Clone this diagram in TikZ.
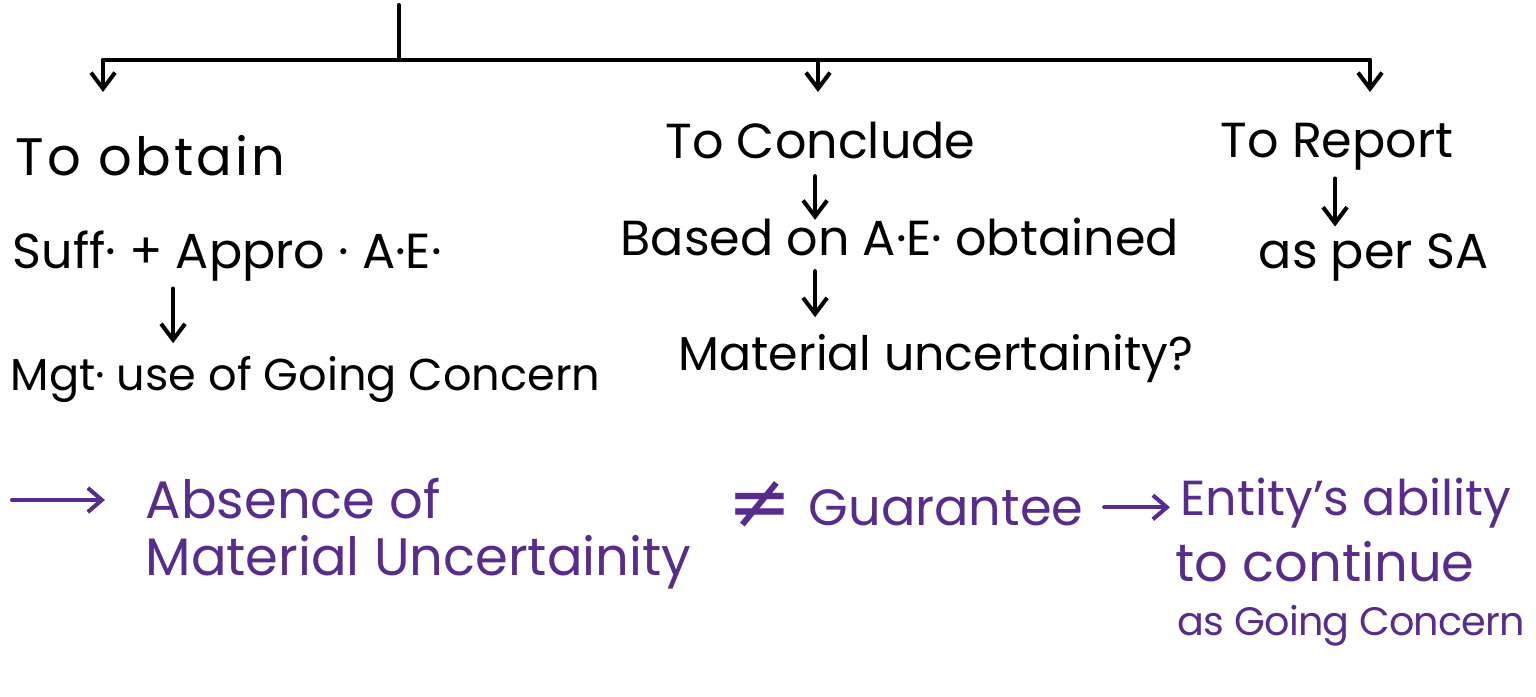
\documentclass[tikz,border=0pt]{standalone}
\usepackage{fontspec}
\setmainfont{Poppins}
\newfontfamily\symfont{DejaVu Sans}
\usetikzlibrary{arrows.meta,positioning}
\definecolor{GCink}{RGB}{0,0,0}
\definecolor{GCpurple}{RGB}{88,44,140}
\tikzset{
  head/.style={anchor=base west,inner sep=0pt,text=GCink,font=\fontsize{14}{16}\selectfont},
  note/.style={anchor=base west,inner sep=0pt,text=GCpurple,font=\fontsize{15}{18}\selectfont},
  fl/.style={-{Straight Barb[length=1.6mm,width=2.4mm]},line width=1.15pt,draw=GCink,line cap=round},
  flp/.style={-{Straight Barb[length=1.4mm,width=2.4mm]},line width=1.15pt,draw=GCpurple,line cap=round}
}
\begin{document}
\begin{tikzpicture}[x=0.01cm,y=-0.01cm]
  \useasboundingbox (0,0) rectangle (1536,697);
  % top branch
  \coordinate (top) at (399,5);
  \coordinate (fork) at (399,60);
  \coordinate (brL) at (103,60);
  \coordinate (brM) at (818,60);
  \coordinate (brR) at (1370,60);
  \coordinate (tipL) at (103,92);
  \coordinate (tipM) at (818,92);
  \coordinate (tipR) at (1370,92);
  \draw[line width=1.15pt,line cap=round] (top) -- (fork);
  \draw[line width=1.15pt,line cap=round] (brL) -- (brR);
  \draw[fl] (brL) -- (tipL);
  \draw[fl] (brM) -- (tipM);
  \draw[fl] (brR) -- (tipR);
  % three columns
  \node[head,font=\fontsize{15}{17}\selectfont\addfontfeatures{LetterSpace=6}] (obtain) at (15,175) {To obtain};
  \node[head] (suff) at (12,268) {Suff· + Appro · A·E·};
  \node[head,font=\fontsize{12.7}{15}\selectfont] (mgt) at (10,390) {Mgt· use of Going Concern};
  \node[head] (conc) at (665,158) {To Conclude};
  \node[head] (based) at (620,255) {Based on A·E· obtained};
  \node[head,font=\fontsize{13.5}{16}\selectfont] (mu) at (678,370) {Material uncertainity?};
  \node[head] (report) at (1220,157) {To Report};
  \node[head] (sa) at (1258,268) {as per SA};
  \draw[fl,shorten >=1.2mm] ([xshift=1.61cm,yshift=-0.7mm]suff.south west) -- ([xshift=1.61cm]suff.south west |- mgt.north);
  \draw[fl,shorten >=-0.3mm] ([xshift=1.5cm,yshift=-1.7mm]conc.south west) -- ([xshift=1.5cm]conc.south west |- based.north);
  \draw[fl,shorten >=1.6mm] ([xshift=1.95cm,yshift=-1.5mm]based.south west) -- ([xshift=1.95cm]based.south west |- mu.north);
  \draw[fl,shorten >=0.6mm] ([xshift=1.15cm,yshift=-0.8mm]report.south west) -- ([xshift=1.15cm]report.south west |- sa.north);
  % purple note
  \coordinate (lead) at (12,500);
  \node[note] (abs) at (145,518) {Absence of};
  \node[note,below=0.57cm of abs.base west,anchor=base west] (absmu) {Material Uncertainity};
  \node[note,font=\symfont\fontsize{22}{24}\selectfont] (neq) at (727,528) {≠};
  \node[note,font=\fontsize{14.5}{17}\selectfont] (guar) at (808,525) {Guarantee};
  \node[note,font=\fontsize{14}{17}\selectfont] (ent) at (1180,515) {Entity's ability};
  \node[note,below=0.66cm of ent.base west,anchor=base west,xshift=-0.05cm] (cont) {to continue};
  \node[note,font=\fontsize{11.3}{14}\selectfont\addfontfeatures{LetterSpace=-2},below=0.54cm of cont.base west,anchor=base west,xshift=0.02cm] (asgc) {as Going Concern};
  \draw[flp,shorten >=0.4cm] (lead) -- (lead -| abs.west);
  \draw[flp,shorten <=0.2cm,shorten >=0.1cm] (guar.east) -- (guar.east -| ent.west);
\end{tikzpicture}
\end{document}
